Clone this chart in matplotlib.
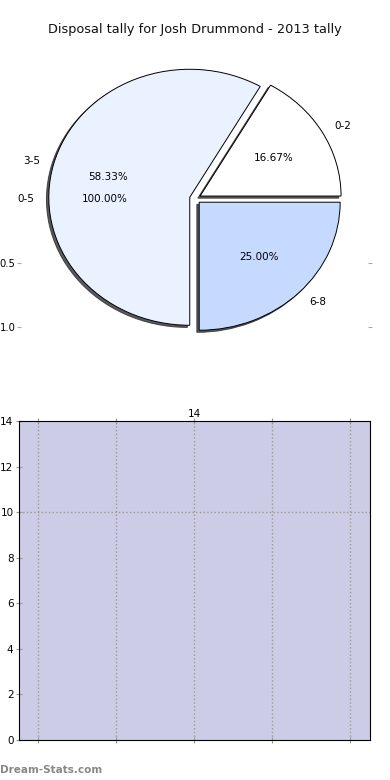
import matplotlib
matplotlib.use('Agg')
import matplotlib.pyplot as plt

# Data
kategorier = ['0-2', '3-5', '6-8']
verdier = [2, 7, 3]
farger = ['#ffffff', '#eaf1ff', '#c6daff']
total_label = ['0-5']
total_verdi = [12]
ytick_pie = [-1.0, -0.5]
ytick_pie_labels = ['1.0', '0.5']
bar_y = []  # ingen stolper i nedre diagram
bar_xticks = [0, 1, 2, 3, 4]
bar_yticks = [0, 2, 4, 6, 8, 10, 12, 14]
grid_y = [10]

fig = plt.figure(figsize=(3.9, 7.8), dpi=100)

# Kakediagram
ax1 = fig.add_axes([19 / 390, 1 - 358.6 / 780, 351 / 390, 320 / 780])
explode = [0.04] * len(verdier)
ax1.pie(verdier, labels=kategorier, colors=farger, explode=explode,
        autopct='%.2f%%', startangle=0, counterclock=True,
        shadow={'ox': -0.012, 'oy': -0.012, 'shade': 0.85, 'alpha': 0.75},
        labeldistance=1.1, pctdistance=0.6, frame=True,
        wedgeprops={'edgecolor': 'black', 'linewidth': 0.7},
        textprops={'fontsize': 7.5})
# "usynlig" totalkake, bare etikettene vises
ax1.pie(total_verdi, labels=total_label, explode=[0.04], autopct='%.2f%%',
        startangle=0, labeldistance=1.1, pctdistance=0.6, frame=True,
        wedgeprops={'visible': False}, textprops={'fontsize': 7.5})
ax1.set_aspect('auto')
ax1.set_xlim(-1.25, 1.24)
ax1.set_ylim(-1.25, 1.25)
ax1.set_xticks([])
ax1.set_yticks(ytick_pie)
ax1.set_yticklabels(ytick_pie_labels)
ax1.tick_params(axis='y', left=True, right=True, direction='inout', length=3,
                color='#aaaaaa', labelsize=7.2, pad=1)
for s in ax1.spines.values():
    s.set_visible(False)

fig.text(195 / 390, 1 - 30 / 780, 'Disposal tally for Josh Drummond - 2013 tally',
         ha='center', va='center', fontsize=9.3, color='#111111')

# Nedre diagram (tomt)
ax2 = fig.add_axes([19 / 390, 1 - 740 / 780, 351 / 390, 319 / 780])
ax2.set_facecolor('#ccccE6')
ax2.bar(range(len(bar_y)), bar_y)
ax2.set_xlim(-0.244, 4.256)
ax2.set_ylim(0, 14)
ax2.set_xticks(bar_xticks)
ax2.set_xticklabels([])
ax2.set_yticks(bar_yticks)
ax2.tick_params(axis='x', top=True, bottom=True, direction='inout', length=4,
                color='#999999')
ax2.tick_params(axis='y', left=True, right=False, direction='inout', length=4,
                color='#999999', labelsize=7.5, pad=2)
ax2.grid(axis='x', linestyle=':', color='#999999', linewidth=1)
for g in grid_y:
    ax2.axhline(g, linestyle=':', color='#999999', linewidth=1)
ax2.set_title('14', fontsize=7.5, pad=3)
for s in ax2.spines.values():
    s.set_linewidth(0.8)

fig.text(0, 1 - 770 / 780, 'Dream-Stats.com', fontsize=7.5, color='#888888',
         fontweight='bold', va='center', ha='left')

plt.savefig('out.png', dpi=100)
plt.close()
